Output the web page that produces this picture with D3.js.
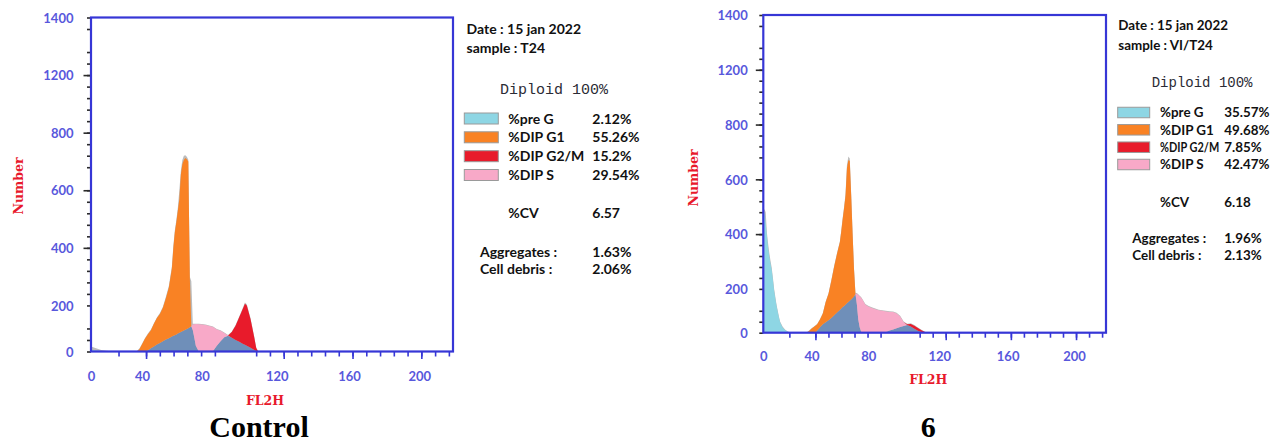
<!DOCTYPE html>
<html>
<head>
<meta charset="utf-8">
<script src="https://cdn.jsdelivr.net/npm/d3@7"></script>
<style>
  body { margin: 0; background: #ffffff; }
  svg { display: block; }
</style>
</head>
<body>
<svg id="chart" width="1281" height="446"></svg>
<script>
// ---------------- data ----------------
// Axis tick labels (counts on y, FL2H channel on x)
const yTickLabels = [0, 200, 400, 600, 800, 1200, 1400];
const xTickLabels = [0, 40, 80, 120, 160, 200];

// Fitted components, stacked bottom to top
const phaseKeys = ["preG", "base", "g1", "s", "g2"];
const legendNames = ["%pre G", "%DIP G1", "%DIP G2/M", "%DIP S"];
const legendKeys = ["preG", "g1", "g2", "s"];

// ---- Control (sample T24) ----
const controlChannel = [0, 4, 8, 12, 16, 30, 36, 38, 40, 42, 44, 46, 48, 50, 52, 54, 56, 58, 60, 61,
  62, 63, 64, 65, 66, 67, 68, 69, 70, 71, 72, 73, 74, 75, 76, 78, 80, 82, 84, 86,
  88, 90, 92, 94, 96, 98, 100, 102, 103, 104, 106, 108, 109, 110, 120, 220];
const controlTotal = [22, 14, 7, 3, 1, 0, 2, 13, 33, 58, 78, 95, 123, 148, 167, 194, 230, 268, 335, 408,
  462, 498, 540, 600, 668, 705, 720, 722, 716, 706, 300, 284, 121, 121, 121, 120, 119, 117, 113, 108,
  98, 92, 82, 72, 87, 115, 153, 192, 210, 204, 144, 63, 18, 2, 0, 0];
const controlPreG = [6, 4, 2, 1, 0, 0, 0, 0, 0, 0, 0, 0, 0, 0, 0, 0, 0, 0, 0, 0,
  0, 0, 0, 0, 0, 0, 0, 0, 0, 0, 0, 0, 0, 0, 0, 0, 0, 0, 0, 0,
  0, 0, 0, 0, 0, 0, 0, 0, 0, 0, 0, 0, 0, 0, 0, 0];
const controlBase = [0, 0, 0, 0, 0, 0, 0, 0, 0, 0, 5, 14, 22, 30, 37, 45, 52, 58, 65, 68,
  71, 74, 78, 81, 85, 88, 91, 94, 98, 101, 105, 110, 92, 60, 25, 0, 0, 0, 0, 2,
  25, 45, 62, 68, 60, 50, 42, 33, 29, 25, 16, 6, 2, 0, 0, 0];
const controlG1 = [0, 0, 0, 0, 0, 0, 0, 10, 30, 55, 70, 78, 98, 115, 126, 145, 173, 204, 263, 332,
  384, 416, 452, 489, 570, 602, 614, 618, 610, 599, 190, 0, 0, 0, 0, 0, 0, 0, 0, 0,
  0, 0, 0, 0, 0, 0, 0, 0, 0, 0, 0, 0, 0, 0, 0, 0];
const controlS = [0, 0, 0, 0, 0, 0, 0, 0, 0, 0, 0, 0, 0, 0, 0, 0, 0, 0, 0, 0,
  0, 0, 0, 0, 0, 0, 0, 0, 0, 0, 0, 0, 25, 58, 94, 118, 117, 115, 111, 104,
  71, 45, 18, 2, 0, 0, 0, 0, 0, 0, 0, 0, 0, 0, 0, 0];
const controlG2 = [0, 0, 0, 0, 0, 0, 0, 0, 0, 0, 0, 0, 0, 0, 0, 0, 0, 0, 0, 0,
  0, 0, 0, 0, 0, 0, 0, 0, 0, 0, 0, 0, 0, 0, 0, 0, 0, 0, 0, 0,
  0, 0, 0, 0, 25, 62, 108, 155, 177, 175, 124, 54, 13, 0, 0, 0];
const controlPercents = ["2.12%", "55.26%", "15.2%", "29.54%"];
const controlCV = "6.57";
const controlAggregates = "1.63%";
const controlDebris = "2.06%";

// ---- Treated (sample VI/T24) ----
const treatedChannel = [0, 1, 2, 3, 4, 5, 6, 7, 8, 9, 10, 11, 12, 13, 14, 16, 18, 20, 22, 30,
  36, 38, 40, 42, 43, 44, 46, 48, 50, 52, 54, 56, 58, 60, 61, 62, 63, 64, 65, 66,
  67, 68, 69, 70, 71, 72, 73, 74, 75, 76, 78, 80, 82, 84, 86, 88, 90, 92, 94, 96,
  98, 100, 102, 104, 106, 108, 110, 112, 113, 120, 220];
const treatedTotal = [480, 492, 480, 405, 365, 330, 302, 277, 240, 200, 163, 128, 100, 73, 50, 28, 15, 7, 2, 0,
  2, 10, 20, 30, 35, 40, 62, 90, 142, 180, 233, 285, 331, 373, 414, 460, 500, 548, 652, 683,
  676, 548, 405, 275, 182, 181, 175, 169, 163, 153, 131, 123, 116, 110, 105, 103, 100, 98, 97, 91,
  77, 51, 41, 43, 35, 24, 13, 4, 1, 0, 0];
const treatedPreG = [470, 478, 440, 395, 350, 318, 292, 268, 232, 192, 155, 122, 95, 68, 46, 24, 12, 5, 0, 0,
  0, 0, 0, 0, 0, 0, 0, 0, 0, 0, 0, 0, 0, 0, 0, 0, 0, 0, 0, 0,
  0, 0, 0, 0, 0, 0, 0, 0, 0, 0, 0, 0, 0, 0, 0, 0, 0, 0, 0, 0,
  0, 0, 0, 0, 0, 0, 0, 0, 0, 0, 0];
const treatedBase = [0, 0, 0, 0, 0, 0, 0, 0, 0, 0, 0, 0, 0, 0, 0, 0, 0, 0, 0, 0,
  0, 0, 0, 0, 3, 10, 25, 38, 48, 57, 67, 80, 92, 104, 110, 117, 122, 128, 134, 140,
  146, 152, 158, 165, 178, 130, 60, 25, 5, 0, 0, 0, 0, 0, 0, 0, 3, 10, 15, 20,
  26, 31, 35, 28, 18, 9, 3, 0, 0, 0, 0];
const treatedG1 = [0, 0, 0, 0, 0, 0, 0, 0, 0, 0, 0, 0, 0, 0, 0, 0, 0, 0, 0, 0,
  0, 8, 18, 28, 30, 28, 35, 50, 92, 121, 163, 202, 236, 266, 300, 338, 373, 412, 506, 530,
  522, 388, 242, 105, 0, 0, 0, 0, 0, 0, 0, 0, 0, 0, 0, 0, 0, 0, 0, 0,
  0, 0, 0, 0, 0, 0, 0, 0, 0, 0, 0];
const treatedS = [0, 0, 0, 0, 0, 0, 0, 0, 0, 0, 0, 0, 0, 0, 0, 0, 0, 0, 0, 0,
  0, 0, 0, 0, 0, 0, 0, 0, 0, 0, 0, 0, 0, 0, 0, 0, 0, 0, 0, 0,
  0, 0, 0, 0, 0, 48, 112, 141, 155, 150, 128, 120, 113, 107, 102, 100, 94, 85, 79, 68,
  48, 17, 0, 0, 0, 0, 0, 0, 0, 0, 0];
const treatedG2 = [0, 0, 0, 0, 0, 0, 0, 0, 0, 0, 0, 0, 0, 0, 0, 0, 0, 0, 0, 0,
  0, 0, 0, 0, 0, 0, 0, 0, 0, 0, 0, 0, 0, 0, 0, 0, 0, 0, 0, 0,
  0, 0, 0, 0, 0, 0, 0, 0, 0, 0, 0, 0, 0, 0, 0, 0, 0, 0, 0, 0,
  0, 0, 3, 12, 14, 12, 8, 3, 0, 0, 0];
const treatedPercents = ["35.57%", "49.68%", "7.85%", "42.47%"];
const treatedCV = "6.18";
const treatedAggregates = "1.96%";
const treatedDebris = "2.13%";

// ---------------- styling / layout ----------------
const colors = {
  preG: "#8ed6e4", base: "#6f8fb9", g1: "#f98224", s: "#f8a9c8", g2: "#e81b2b", total: "#bcbcbc"
};
const frameColor = "#3636d6";
const tickLabelColor = "#5858dc";
const titleRed = "#e8192c";

// minor tick grid: 29 steps up the y axis, ~26.3 steps across the x axis
const yLabelIdx = [0, 4, 9, 14, 19, 24, 29];
const xLabelIdx = [0, 3.7, 8.05, 13.5, 18.75, 23.85];
const yMinorIdx = d3.range(0, 30).filter(i => ![3, 15, 27].includes(i));
const yMajorIdx = [9, 14, 19, 24];
const xMinorIdx = [2, 4, 5, 6, 7, 8, 9].concat(d3.range(12, 27));
const xMajorIdx = [4, 14, 19, 24];

const panels = [
  {
    channel: controlChannel, total: controlTotal,
    series: { preG: controlPreG, base: controlBase, g1: controlG1, s: controlS, g2: controlG2 },
    percents: controlPercents, cv: controlCV, aggregates: controlAggregates, debris: controlDebris,
    sample: "sample : T24", caption: "Control",
    frame: { x0: 91, x1: 453, y0: 17.5, y1: 351.5 },
    yPad: 17.5, xLabelOffset: 25,
    numberPos: [18.5, 186], fl2hPos: [265, 401], captionPos: [259, 437],
    lg: { fs: 14, mono: 15, x: 466.5, dateY: 29.3, sampleY: 48.3, diploidX: 500, diploidY: 88.3,
          swX: 464.3, swW: 34, swH: 11, rows: [118.5, 137.3, 156.2, 175], labelX: 508.3, valueX: 592.3,
          cvY: 212.7, aggX: 480, aggY: 251.7, debY: 269.3 }
  },
  {
    channel: treatedChannel, total: treatedTotal,
    series: { preG: treatedPreG, base: treatedBase, g1: treatedG1, s: treatedS, g2: treatedG2 },
    percents: treatedPercents, cv: treatedCV, aggregates: treatedAggregates, debris: treatedDebris,
    sample: "sample : VI/T24", caption: "6",
    frame: { x0: 763.3, x1: 1106, y0: 15, y1: 332.7 },
    yPad: 15.6, xLabelOffset: 24,
    numberPos: [693.5, 178], fl2hPos: [928.3, 380], captionPos: [928.3, 437],
    lg: { fs: 13.4, mono: 14, x: 1118.3, dateY: 25, sampleY: 45, diploidX: 1151.7, diploidY: 81.7,
          swX: 1117.7, swW: 32, swH: 10.5, rows: [112.5, 129.8, 147.2, 164.5], labelX: 1160, valueX: 1224.3,
          cvY: 201.7, aggX: 1132.3, aggY: 238.3, debY: 255 }
  }
];

const svg = d3.select("#chart");

panels.forEach((p, pi) => {
  const f = p.frame;
  const g = svg.append("g");

  // tick-grid scales and the value scales anchored on the labelled ticks
  const xIdx = d3.scaleLinear().domain([0, 26.3]).range([f.x0, f.x1]);
  const yIdx = d3.scaleLinear().domain([0, 29]).range([f.y1, f.y0]);
  const x = d3.scaleLinear().domain(xTickLabels).range(xLabelIdx.map(xIdx));
  const y = d3.scaleLinear().domain(yTickLabels).range(yLabelIdx.map(yIdx));

  const clipId = "clip" + pi;
  g.append("clipPath").attr("id", clipId)
    .append("rect").attr("x", f.x0).attr("y", f.y0)
    .attr("width", f.x1 - f.x0).attr("height", f.y1 - f.y0);

  const plot = g.append("g").attr("clip-path", `url(#${clipId})`);

  // measured histogram (grey) behind the fitted components
  const rows = p.channel.map((c, i) => {
    const r = { x: c, total: p.total[i] };
    phaseKeys.forEach(k => r[k] = p.series[k][i]);
    return r;
  });

  plot.append("path").datum(rows)
    .attr("fill", colors.total)
    .attr("d", d3.area().x(d => x(d.x)).y0(y(0)).y1(d => y(d.total)));

  const stacked = d3.stack().keys(phaseKeys)(rows);
  const area = d3.area().x(d => x(d.data.x)).y0(d => y(d[0])).y1(d => y(d[1]));
  plot.selectAll("path.layer").data(stacked).join("path")
    .attr("class", "layer")
    .attr("fill", d => colors[d.key])
    .attr("d", area);

  // y axis ticks
  g.append("g").attr("transform", `translate(${f.x0},0)`)
    .call(d3.axisLeft(yIdx).tickValues(yMinorIdx).tickSize(4).tickFormat(""))
    .call(a => a.select(".domain").remove())
    .call(a => a.selectAll("line").attr("stroke", "#2a2a2a").attr("stroke-width", 1.6));
  g.append("g").attr("transform", `translate(${f.x0},0)`)
    .call(d3.axisLeft(yIdx).tickValues(yMajorIdx).tickSize(7.5).tickFormat(""))
    .call(a => a.select(".domain").remove())
    .call(a => a.selectAll("line").attr("stroke", "#2a2a2a").attr("stroke-width", 1.6));
  g.append("g").attr("transform", `translate(${f.x0},0)`)
    .call(d3.axisLeft(y).tickValues(yTickLabels).tickFormat(d3.format("d")).tickSize(0).tickPadding(p.yPad))
    .call(a => a.select(".domain").remove())
    .call(a => a.selectAll("text")
      .attr("fill", tickLabelColor).attr("font-family", "Lato")
      .attr("font-weight", "bold").attr("font-size", 13).attr("dy", "0.36em"));

  // x axis ticks
  g.append("g").attr("transform", `translate(0,${f.y1})`)
    .call(d3.axisBottom(xIdx).tickValues(xMinorIdx).tickSize(5).tickFormat(""))
    .call(a => a.select(".domain").remove())
    .call(a => a.selectAll("line").attr("stroke", frameColor).attr("stroke-width", 1.6));
  g.append("g").attr("transform", `translate(0,${f.y1})`)
    .call(d3.axisBottom(xIdx).tickValues(xMajorIdx).tickSize(7.5).tickFormat(""))
    .call(a => a.select(".domain").remove())
    .call(a => a.selectAll("line").attr("stroke", frameColor).attr("stroke-width", 1.6));
  g.append("g").attr("transform", `translate(0,${f.y1})`)
    .call(d3.axisBottom(x).tickValues(xTickLabels).tickFormat(d3.format("d")).tickSize(0))
    .call(a => a.select(".domain").remove())
    .call(a => a.selectAll("text")
      .attr("y", p.xLabelOffset).attr("dy", "0.36em")
      .attr("fill", tickLabelColor).attr("font-family", "Lato")
      .attr("font-weight", "bold").attr("font-size", 13));

  // frame
  g.append("rect")
    .attr("x", f.x0).attr("y", f.y0)
    .attr("width", f.x1 - f.x0).attr("height", f.y1 - f.y0)
    .attr("fill", "none").attr("stroke", frameColor).attr("stroke-width", 2.2);

  // axis titles
  g.append("text")
    .attr("transform", `translate(${p.numberPos[0]},${p.numberPos[1]}) rotate(-90)`)
    .attr("text-anchor", "middle").attr("dy", "0.35em")
    .attr("font-family", "DejaVu Serif").attr("font-weight", "bold").attr("font-size", 12.5)
    .attr("fill", titleRed).text("Number");
  g.append("text")
    .attr("x", p.fl2hPos[0]).attr("y", p.fl2hPos[1])
    .attr("text-anchor", "middle").attr("dy", "0.35em")
    .attr("font-family", "DejaVu Serif").attr("font-weight", "bold").attr("font-size", 12.5)
    .attr("fill", titleRed).text("FL2H");

  // caption
  g.append("text")
    .attr("x", p.captionPos[0]).attr("y", p.captionPos[1])
    .attr("text-anchor", "middle")
    .attr("font-family", "Liberation Serif").attr("font-weight", "bold").attr("font-size", 30)
    .attr("fill", "#000").text(p.caption);

  // side legend / statistics
  const L = p.lg;
  const txt = (xp, yp, s, opts = {}) => {
    const t = g.append("text")
      .attr("transform", `translate(${xp},${yp})`)
      .attr("dy", "0.36em")
      .attr("font-family", opts.family || "Lato")
      .attr("font-weight", opts.weight || "bold")
      .attr("font-size", opts.size || L.fs)
      .attr("fill", opts.fill || "#111")
      .text(s);
    // condense a label horizontally so it stays inside its column
    if (opts.maxWidth) {
      const w = t.node().getComputedTextLength();
      if (w > opts.maxWidth) {
        t.attr("transform", `translate(${xp},${yp}) scale(${opts.maxWidth / w},1)`);
      }
    }
    return t;
  };

  txt(L.x, L.dateY, "Date : 15 jan 2022");
  txt(L.x, L.sampleY, p.sample);
  txt(L.diploidX, L.diploidY, "Diploid 100%",
      { family: "Liberation Mono", weight: "normal", size: L.mono, fill: "#2b2b35" });

  const colWidth = L.valueX - L.labelX - 5;
  legendKeys.forEach((k, i) => {
    g.append("rect")
      .attr("x", L.swX).attr("y", L.rows[i] - L.swH / 2)
      .attr("width", L.swW).attr("height", L.swH)
      .attr("fill", colors[k]).attr("stroke", "#9a9a9a").attr("stroke-width", 1);
    txt(L.labelX, L.rows[i], legendNames[i], { maxWidth: colWidth });
    txt(L.valueX, L.rows[i], p.percents[i]);
  });

  txt(L.labelX, L.cvY, "%CV");
  txt(L.valueX, L.cvY, p.cv);
  txt(L.aggX, L.aggY, "Aggregates :");
  txt(L.valueX, L.aggY, p.aggregates);
  txt(L.aggX, L.debY, "Cell debris  :");
  txt(L.valueX, L.debY, p.debris);
});
</script>
</body>
</html>
